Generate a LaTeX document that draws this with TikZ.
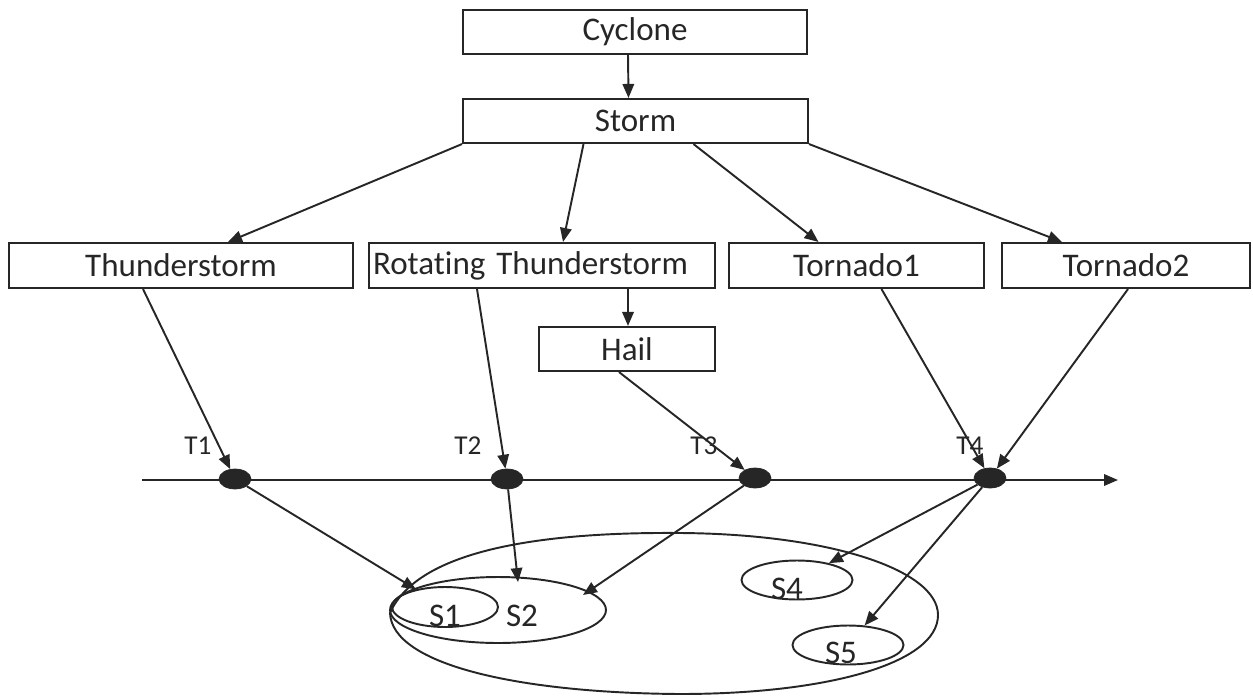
\documentclass[tikz,border=0pt]{standalone}
\usepackage{fontspec}
\setmainfont[Ligatures=NoCommon]{Carlito}
\usetikzlibrary{arrows.meta, calc, shapes.geometric}
\definecolor{inkc}{HTML}{262626}

\begin{document}
\begin{tikzpicture}[
    x=0.02cm, y=-0.02cm,
    catbox/.style={draw=inkc, line width=1.2pt, rectangle, minimum height=0.88cm, inner sep=0pt, text=inkc, font=\fontsize{18.8}{22}\selectfont},
    event/.style={draw=inkc, fill=inkc, ellipse, minimum width=0.64cm, minimum height=0.4cm, inner sep=0pt},
    region/.style={draw=inkc, line width=1.1pt, ellipse, inner sep=0pt},
    tlab/.style={text=inkc, font=\fontsize{15.5}{18}\selectfont},
    slab/.style={text=inkc, font=\fontsize{18.8}{22}\selectfont},
    conn/.style={-{Triangle[length=2.8mm, width=2.3mm]}, line width=1.1pt, draw=inkc}
]
\useasboundingbox (0,0) rectangle (1253,696);

% Top of the hierarchy
\node[catbox, minimum width=6.88cm] (cyclone) at (635,32) {Cyclone};
\node[catbox, minimum width=6.9cm] (storm) at (635.5,121) {Storm};
\draw[conn] ($(cyclone.south)+(-7,0)$) -- ($(storm.north)+(-7,0)$);

% Second row
\node[catbox, minimum width=6.88cm, minimum height=0.9cm] (thunder) at (181,265.5) {Thunderstorm};
\node[catbox, minimum height=0.9cm, text width=6.76cm, align=left, inner xsep=0.08cm] (rotating) at (542,265.5) {Rotating Thunderstorm};
\node[catbox, minimum width=5.1cm, minimum height=0.9cm] (tornadoA) at (856.5,265.5) {Tornado1};
\node[catbox, minimum width=4.96cm, minimum height=0.9cm] (tornadoB) at (1126,265.5) {Tornado2};
\node[catbox, minimum width=3.52cm] (hail) at (627,349) {Hail};
\draw[conn] (storm.south west) -- ($(thunder.north)+(47,0)$);
\draw[conn] ($(storm.south)+(-52,0)$) -- ($(rotating.north)+(21,0)$);
\draw[conn] ($(storm.south)+(58,0)$) -- ($(tornadoA.north)+(-38,0)$);
\draw[conn] (storm.south east) -- ($(tornadoB.north)+(-64,0)$);
\draw[conn] ($(rotating.south)+(86,0)$) -- ($(hail.north)+(1,0)$);

% Time line with events
\coordinate (tlstart) at (142,480);
\coordinate (tlend) at (1118,480);
\draw[conn] (tlstart) -- (tlend);
\node[event] (t1) at (235,479) {};
\node[event] (t2) at (507,479) {};
\node[event] (t3) at (755,478) {};
\node[event] (t4) at (990,478) {};
\node[tlab] (t1lab) at (198,446) {T1};
\node[tlab] (t2lab) at (468,446) {T2};
\node[tlab] (t3lab) at (704,446) {T3};
\node[tlab] (t4lab) at (970,446) {T4};
\draw[conn] ($(thunder.south)+(-38,0)$) -- (t1);
\draw[conn] ($(rotating.south)+(-65,0)$) -- (t2);
\draw[conn] ($(hail.south)+(-8,0)$) -- (t3);
\draw[conn] ($(tornadoA.south)+(25,0)$) -- (t4);
\draw[conn] ($(tornadoB.south)+(2,0)$) -- (t4);

% States
\draw[line width=1.1pt, draw=inkc] (390,613) .. controls (420,545) and (560,532) .. (680,533)
    .. controls (830,534) and (938,570) .. (938,615)
    .. controls (938,664) and (825,694) .. (680,694)
    .. controls (520,693) and (392,665) .. cycle;
\node[region, minimum width=4.32cm, minimum height=1.32cm] (s2) at (498,610) {};
\node[region, minimum width=2.12cm, minimum height=0.8cm] (s1) at (445,607) {};
\node[region, minimum width=2.22cm, minimum height=0.78cm] (s4) at (797,580) {};
\node[region, minimum width=2.22cm, minimum height=0.78cm] (s5) at (848,645) {};
\node[slab] (s1lab) at (445,616) {S1};
\node[slab] (s2lab) at (522,616) {S2};
\node[slab] (s4lab) at (787,589) {S4};
\node[slab] (s5lab) at (841,653) {S5};
\draw[conn] (t1) -- (s1);
\draw[conn] (t2) -- ($(s2.north)+(20,6)$);
\draw[conn] (t3) -- ($(s2.center)+(85,-15)$);
\draw[conn] (t4) -- (s4);
\draw[conn] (t4) -- (s5);

\end{tikzpicture}
\end{document}
